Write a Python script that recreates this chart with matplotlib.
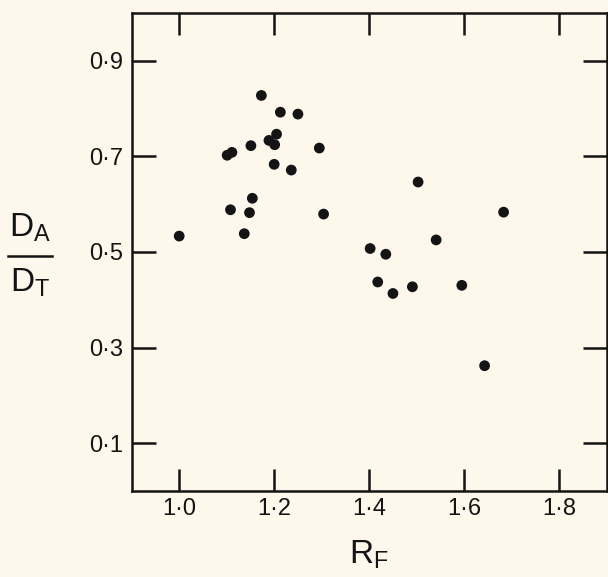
import matplotlib
matplotlib.use('Agg')
import matplotlib.pyplot as plt

# data
rf = [1.000, 1.101, 1.111, 1.108, 1.137, 1.148, 1.151, 1.154, 1.173, 1.189,
      1.200, 1.201, 1.205, 1.213, 1.236, 1.250, 1.295, 1.304,
      1.402, 1.418, 1.435, 1.450, 1.491, 1.503, 1.541, 1.595, 1.643, 1.683]
da_dt = [0.533, 0.702, 0.708, 0.588, 0.538, 0.582, 0.722, 0.612, 0.827, 0.733,
         0.683, 0.724, 0.746, 0.792, 0.671, 0.788, 0.717, 0.579,
         0.507, 0.437, 0.495, 0.413, 0.427, 0.646, 0.525, 0.430, 0.262, 0.583]

xticks = [1.0, 1.2, 1.4, 1.6, 1.8]
xlabels = ['1·0', '1·2', '1·4', '1·6', '1·8']
yticks = [0.1, 0.3, 0.5, 0.7, 0.9]
ylabels = ['0·1', '0·3', '0·5', '0·7', '0·9']

bg = '#fdf7ec'
ink = '#141414'

plt.rcParams['font.family'] = ['Liberation Sans', 'DejaVu Sans']
plt.rcParams['mathtext.fontset'] = 'custom'
plt.rcParams['mathtext.rm'] = 'Liberation Sans'
plt.rcParams['mathtext.it'] = 'Liberation Sans'

fig = plt.figure(figsize=(6.08, 5.77), dpi=100, facecolor=bg)
ax = fig.add_axes([0.2166, 0.149, 0.7812, 0.829])
ax.set_facecolor(bg)

ax.scatter(rf, da_dt, s=60, color=ink, edgecolors='none', zorder=3)

ax.set_xlim(0.9, 1.9)
ax.set_ylim(0.0, 1.0)
ax.set_xticks(xticks)
ax.set_xticklabels(xlabels)
ax.set_yticks(yticks)
ax.set_yticklabels(ylabels)

for sp in ax.spines.values():
    sp.set_linewidth(1.8)
    sp.set_color(ink)

ax.tick_params(axis='x', direction='in', top=True, bottom=True, length=16,
               width=1.8, color=ink, labelsize=17, pad=5, labelcolor=ink)
ax.tick_params(axis='y', direction='in', left=True, right=True, length=17,
               width=1.8, color=ink, labelsize=17, pad=6, labelcolor=ink)

# x label
fig.text(369 / 608, 1 - 555 / 577, r'$\mathrm{R_F}$', fontsize=24,
         ha='center', va='center', color=ink)

# y label as a fraction D_A / D_T
fig.text(30 / 608, 1 - 228 / 577, r'$\mathrm{D_A}$', fontsize=24,
         ha='center', va='center', color=ink)
fig.text(30 / 608, 1 - 283 / 577, r'$\mathrm{D_T}$', fontsize=24,
         ha='center', va='center', color=ink)
fig.add_artist(plt.Line2D([8 / 608, 52 / 608], [1 - 256 / 577, 1 - 256 / 577],
                          color=ink, linewidth=1.8))

fig.savefig('out.png', dpi=100, facecolor=bg)
